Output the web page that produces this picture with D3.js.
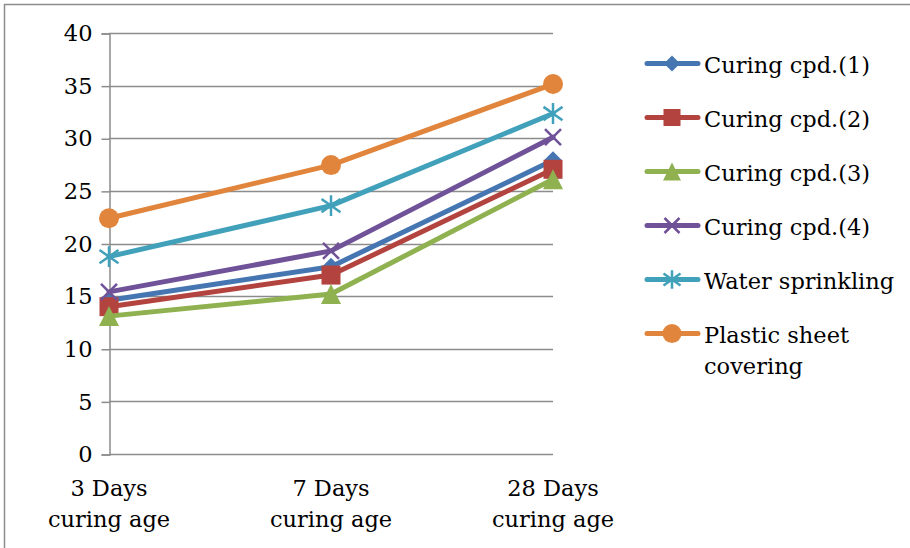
<!DOCTYPE html>
<html>
<head>
<meta charset="utf-8">
<script src="https://cdn.jsdelivr.net/npm/d3@7"></script>
<style>
  html, body { margin: 0; padding: 0; background: #fff; }
  svg { display: block; }
  text { font-family: "DejaVu Serif", "Liberation Serif", serif; fill: #000; }
</style>
</head>
<body>
<svg id="chart" width="910" height="548"></svg>
<script>
// Curing age categories (two-line labels)
const categories = ["3 Days\ncuring age", "7 Days\ncuring age", "28 Days\ncuring age"];
const seriesNames = ["Curing cpd.(1)", "Curing cpd.(2)", "Curing cpd.(3)", "Curing cpd.(4)", "Water sprinkling", "Plastic sheet\ncovering"];
const cpd1 = [14.6, 17.8, 27.9];
const cpd2 = [14.0, 17.0, 27.05];
const cpd3 = [13.1, 15.2, 26.1];
const cpd4 = [15.4, 19.3, 30.1];
const water = [18.75, 23.6, 32.35];
const plastic = [22.4, 27.45, 35.15];
const yTicks = [0, 5, 10, 15, 20, 25, 30, 35, 40];

const seriesValues = [cpd1, cpd2, cpd3, cpd4, water, plastic];
const colors = ["#4676B2", "#B3433F", "#8FB14F", "#6F5298", "#41A1BA", "#E2853C"];
const markers = ["diamond", "square", "triangle", "x", "star", "circle"];
const FONT = 22.5;

const svg = d3.select("#chart");

// outer frame (left and top edges visible)
svg.append("path")
  .attr("d", "M4.5,548 V4.5 H910")
  .attr("fill", "none").attr("stroke", "#8c8c8c").attr("stroke-width", 1.5);

const x = d3.scalePoint().domain(categories).range([109, 553]);
const y = d3.scaleLinear().domain([0, 40]).range([454, 33]);

// horizontal gridlines
svg.append("g").selectAll("line").data(yTicks.filter(t => t > 0)).join("line")
  .attr("x1", 109).attr("x2", 553)
  .attr("y1", d => Math.round(y(d)) + 0.5).attr("y2", d => Math.round(y(d)) + 0.5)
  .attr("stroke", "#8c8c8c").attr("stroke-width", 1.5);

// y axis
const yAxis = svg.append("g").attr("transform", "translate(109.5,0.5)")
  .call(d3.axisLeft(y).tickValues(yTicks).tickSize(8).tickPadding(9));
yAxis.select(".domain").attr("stroke", "#8c8c8c").attr("stroke-width", 1.5);
yAxis.selectAll(".tick line").attr("stroke", "#8c8c8c").attr("stroke-width", 1.5);
yAxis.selectAll(".tick text").attr("font-size", FONT).attr("font-family", "DejaVu Serif").attr("fill", "#000");

// x axis line
svg.append("line").attr("x1", 109).attr("x2", 553)
  .attr("y1", Math.round(y(0)) + 0.5).attr("y2", Math.round(y(0)) + 0.5)
  .attr("stroke", "#8c8c8c").attr("stroke-width", 1.5);

// category labels
const catG = svg.append("g");
categories.forEach(c => {
  const t = catG.append("text").attr("x", x(c)).attr("text-anchor", "middle").attr("font-size", FONT);
  c.split("\n").forEach((line, i) => {
    t.append("tspan").attr("x", x(c)).attr("y", 496 + i * 31).text(line);
  });
});

function drawMarker(g, type, cx, cy, color, s) {
  if (type === "diamond") {
    g.append("path").attr("d", `M${cx},${cy - s}L${cx + s},${cy}L${cx},${cy + s}L${cx - s},${cy}Z`).attr("fill", color);
  } else if (type === "square") {
    g.append("rect").attr("x", cx - s).attr("y", cy - s).attr("width", 2 * s).attr("height", 2 * s).attr("fill", color);
  } else if (type === "triangle") {
    g.append("path").attr("d", `M${cx},${cy - s}L${cx + s},${cy + s}L${cx - s},${cy + s}Z`).attr("fill", color);
  } else if (type === "x") {
    g.append("path").attr("d", `M${cx - s},${cy - s}L${cx + s},${cy + s}M${cx - s},${cy + s}L${cx + s},${cy - s}`)
      .attr("stroke", color).attr("stroke-width", 2.5);
  } else if (type === "star") {
    g.append("path").attr("d", `M${cx - s},${cy - s * 0.7}L${cx + s},${cy + s * 0.7}M${cx - s},${cy + s * 0.7}L${cx + s},${cy - s * 0.7}M${cx},${cy - s * 1.1}L${cx},${cy + s * 1.1}`)
      .attr("stroke", color).attr("stroke-width", 2.5);
  } else if (type === "circle") {
    g.append("circle").attr("cx", cx).attr("cy", cy).attr("r", s).attr("fill", color);
  }
}
const markerSize = [9, 9.5, 10, 8, 9.5, 10];
const legendMarkerSize = [8, 8.5, 9, 7.5, 8.5, 9.5];

const line = d3.line().x((d, i) => x(categories[i])).y(d => y(d));
seriesValues.forEach((vals, si) => {
  const g = svg.append("g");
  g.append("path").datum(vals).attr("d", line).attr("fill", "none")
    .attr("stroke", colors[si]).attr("stroke-width", 5).attr("stroke-linejoin", "round").attr("stroke-linecap", "round");
  vals.forEach((v, i) => drawMarker(g, markers[si], x(categories[i]), y(v), colors[si], markerSize[si]));
});

// legend
const legY = [63.5, 117.5, 171.5, 225.5, 279.5, 333.5];
seriesNames.forEach((name, si) => {
  const g = svg.append("g");
  const ly = legY[si];
  g.append("line").attr("x1", 647).attr("x2", 698).attr("y1", ly).attr("y2", ly)
    .attr("stroke", colors[si]).attr("stroke-width", 5).attr("stroke-linecap", "round");
  drawMarker(g, markers[si], 672, ly, colors[si], legendMarkerSize[si]);
  const t = g.append("text").attr("font-size", FONT);
  name.split("\n").forEach((l, i) => {
    t.append("tspan").attr("x", 704).attr("y", ly + 9 + i * 31).text(l);
  });
});
</script>
</body>
</html>
